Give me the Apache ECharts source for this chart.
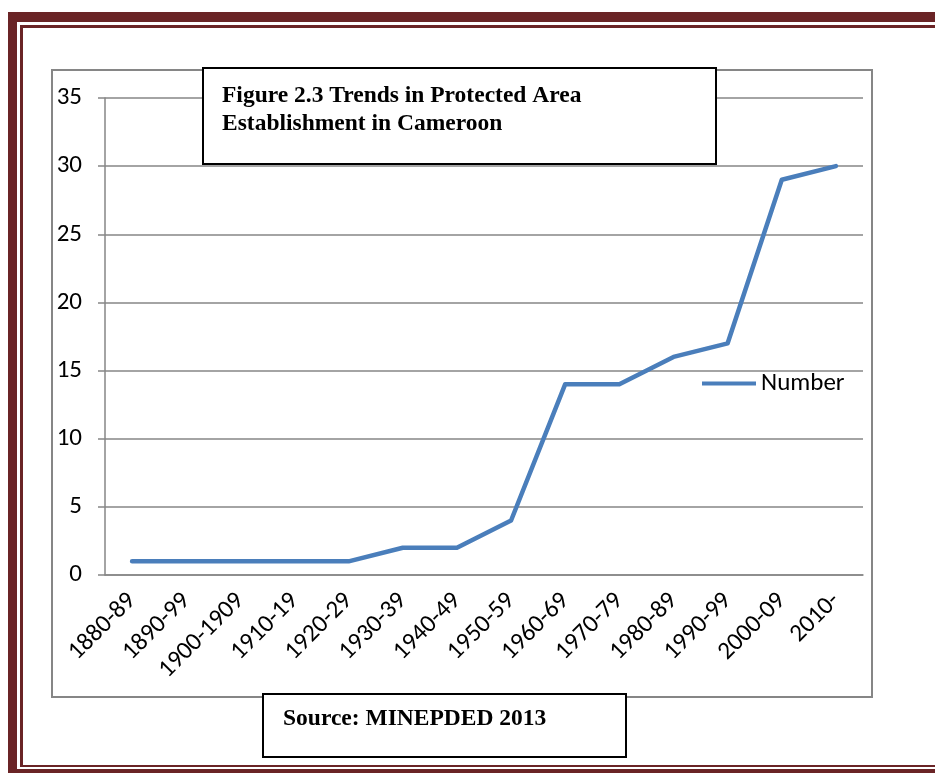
<!DOCTYPE html>
<html>
<head>
<meta charset="utf-8">
<script src="https://cdn.jsdelivr.net/npm/echarts@6/dist/echarts.min.js"></script>
<style>
  html, body { margin: 0; padding: 0; background: #fff; }
  #chart { width: 935px; height: 773px; }
</style>
</head>
<body>
<div id="chart"></div>
<script>
const decades = ['1880-89', '1890-99', '1900-1909', '1910-19', '1920-29', '1930-39', '1940-49',
  '1950-59', '1960-69', '1970-79', '1980-89', '1990-99', '2000-09', '2010-']
const numbers = [1, 1, 1, 1, 1, 2, 2, 4, 14, 14, 16, 17, 29, 30]
const yTicks = [0, 5, 10, 15, 20, 25, 30, 35]

const frame = '#6a2426'
const sans = 'Calibri, Carlito, Lato, "Open Sans", sans-serif'
const serif = '"Liberation Serif", "Times New Roman", serif'

const chart = echarts.init(document.getElementById('chart'))
chart.setOption({
  backgroundColor: '#fff',
  animation: false,
  grid: { left: 105, right: 72, top: 98, bottom: 198 },
  legend: {
    left: 697, top: 366,
    itemWidth: 54, itemHeight: 14, itemGap: 4,
    textStyle: { fontFamily: sans, fontSize: 25, color: '#000' },
    data: [{ name: 'Number', icon: 'path://M0,5 L54,5 L54,9 L0,9 Z' }],
  },
  xAxis: {
    type: 'category',
    data: decades,
    boundaryGap: true,
    axisLine: { lineStyle: { color: '#868686', width: 1.5 } },
    axisTick: { length: 7, lineStyle: { color: '#868686', width: 1.5 } },
    axisLabel: { rotate: 45, margin: 22, fontFamily: sans, fontSize: 25, color: '#000',
      padding: [0, 0, 0, 0] },
  },
  yAxis: {
    type: 'value',
    min: yTicks[0], max: yTicks[yTicks.length - 1], interval: 5,
    axisLine: { show: true, lineStyle: { color: '#868686', width: 1.5 } },
    axisTick: { show: true, length: 7, lineStyle: { color: '#868686', width: 1.5 } },
    axisLabel: { margin: 23, fontFamily: sans, fontSize: 25, color: '#000' },
    splitLine: { lineStyle: { color: '#868686', width: 1.5 } },
  },
  series: [{
    name: 'Number',
    type: 'line',
    data: numbers,
    symbol: 'none',
    lineStyle: { color: '#4a7ebb', width: 4.5, cap: 'round', join: 'round' },
    itemStyle: { color: '#4a7ebb' },
    z: 3,
  }],
  graphic: [
    // page border
    { type: 'rect', shape: { x: 8, y: 12, width: 927, height: 10 }, style: { fill: frame } },
    { type: 'rect', shape: { x: 20, y: 25, width: 915, height: 3 }, style: { fill: frame } },
    { type: 'rect', shape: { x: 8, y: 12, width: 9, height: 761 }, style: { fill: frame } },
    { type: 'rect', shape: { x: 20, y: 25, width: 3, height: 742 }, style: { fill: frame } },
    { type: 'rect', shape: { x: 20, y: 765, width: 915, height: 2 }, style: { fill: frame } },
    { type: 'rect', shape: { x: 8, y: 769, width: 927, height: 4 }, style: { fill: frame } },
    // chart area border
    { type: 'rect', shape: { x: 52, y: 70, width: 820, height: 627 },
      style: { fill: 'none', stroke: '#868686', lineWidth: 2 } },
    // title box
    { type: 'rect', z: 100, shape: { x: 203, y: 68, width: 513, height: 96 },
      style: { fill: '#fff', stroke: '#000', lineWidth: 2 } },
    { type: 'text', z: 101, x: 222, y: 82,
      style: { text: 'Figure 2.3 Trends in Protected Area\nEstablishment in Cameroon',
        font: 'bold 23.5px ' + serif, fill: '#000', lineHeight: 28 } },
    // source box
    { type: 'rect', z: 100, shape: { x: 263, y: 694, width: 363, height: 63 },
      style: { fill: '#fff', stroke: '#000', lineWidth: 2 } },
    { type: 'text', z: 101, x: 283, y: 707,
      style: { text: 'Source: MINEPDED 2013', font: 'bold 23.5px ' + serif, fill: '#000' } },
  ],
})
</script>
</body>
</html>
